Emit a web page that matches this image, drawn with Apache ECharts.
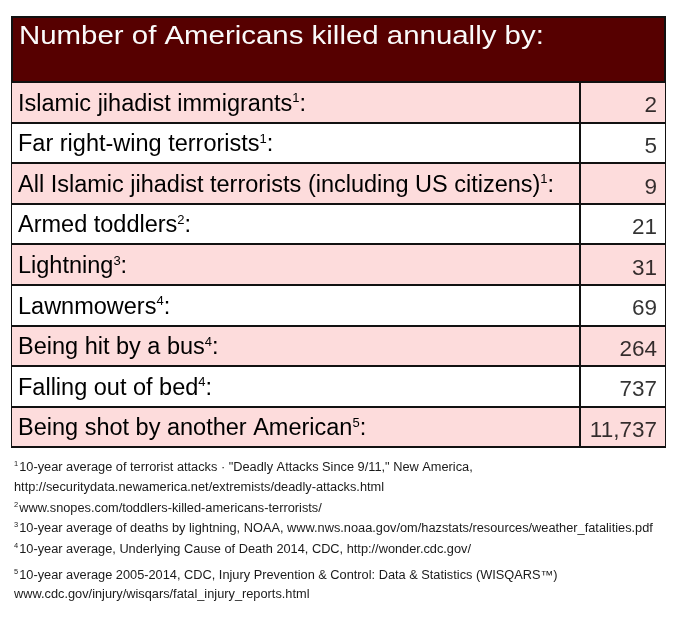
<!DOCTYPE html>
<html><head><meta charset="utf-8">
<script src="https://cdn.jsdelivr.net/npm/echarts@6/dist/echarts.min.js"></script>
<style>html,body{margin:0;padding:0;background:#fff}#c{width:676px;height:619px}</style>
</head><body><div id="c"></div>
<script>
const titleText = 'Number of Americans killed annually by:';
const categories = [
  'Islamic jihadist immigrants',
  'Far right-wing terrorists',
  'All Islamic jihadist terrorists (including US citizens)',
  'Armed toddlers',
  'Lightning',
  'Lawnmowers',
  'Being hit by a bus',
  'Falling out of bed',
  'Being shot by another American'
];
const sourceRefs = [1, 1, 1, 2, 3, 4, 4, 4, 5];
const deaths = [2, 5, 9, 21, 31, 69, 264, 737, 11737];
const footnoteMarks = ['1', '', '2', '3', '4', '5', ''];
const footnoteTexts = [
  '10-year average of terrorist attacks \u00b7 "Deadly Attacks Since 9/11," New America,',
  'http://securitydata.newamerica.net/extremists/deadly-attacks.html',
  'www.snopes.com/toddlers-killed-americans-terrorists/',
  '10-year average of deaths by lightning, NOAA, www.nws.noaa.gov/om/hazstats/resources/weather_fatalities.pdf',
  '10-year average, Underlying Cause of Death 2014, CDC, http://wonder.cdc.gov/',
  '10-year average 2005-2014, CDC, Injury Prevention & Control: Data & Statistics (WISQARS\u2122)',
  'www.cdc.gov/injury/wisqars/fatal_injury_reports.html'
];

const FONT = '"Liberation Sans", Arial, sans-serif';
const footY = [468, 488, 508.5, 529, 550, 576, 595];

const chart = echarts.init(document.getElementById('c'), null, {renderer: 'canvas'});

const graphics = [
  {type: 'rect', shape: {x: 12, y: 17, width: 653, height: 65}, style: {fill: '#560000', stroke: '#111', lineWidth: 2}, z: 0},
  {type: 'text', x: 19, y: 37, scaleX: 1.11, z: 1,
   style: {text: titleText, fontSize: 26.5, fontFamily: FONT, fill: '#fafafa', verticalAlign: 'middle', align: 'left'}}
];
footnoteTexts.forEach((t, i) => {
  graphics.push({
    type: 'text', x: 14, y: footY[i], scaleX: 1.065,
    style: {
      text: (footnoteMarks[i] ? '{s|' + footnoteMarks[i] + '}' : '') + '{t|' + t + '}',
      verticalAlign: 'middle', align: 'left',
      fontSize: 12, fontFamily: FONT, fill: '#1a1a1a',
      rich: {
        t: {fontSize: 12, fontFamily: FONT, fill: '#1a1a1a', lineHeight: 14},
        s: {fontSize: 7, fontFamily: FONT, fill: '#1a1a1a', lineHeight: 8, verticalAlign: 'top', padding: [0, 1, 0, 0]}
      }
    }
  });
});

chart.setOption({
  animation: false,
  backgroundColor: '#fff',
  graphic: graphics,
  grid: {left: 12, right: 11, top: 82, height: 365, show: true, borderColor: '#111', borderWidth: 2, backgroundColor: 'transparent'},
  xAxis: {type: 'value', min: 0, max: 1, show: false},
  yAxis: {
    type: 'category', inverse: true, data: categories,
    axisLine: {show: false}, axisTick: {show: false},
    splitLine: {show: true, lineStyle: {color: '#111', width: 2}},
    splitArea: {show: true, areaStyle: {color: ['#fddcdc', '#ffffff']}},
    axisLabel: {
      inside: true, margin: 6, padding: [4, 0, 0, 0],
      formatter: (val, idx) => '{t|' + val + '}{s|' + sourceRefs[idx] + '}{t|:}',
      rich: {
        t: {fontSize: 23.5, fontFamily: FONT, color: '#000', lineHeight: 24},
        s: {fontSize: 13, fontFamily: FONT, color: '#000', lineHeight: 13, verticalAlign: 'top'}
      }
    }
  },
  series: [{
    type: 'scatter', symbolSize: 0,
    data: deaths.map((d, i) => [1, i]),
    label: {
      show: true, position: 'left', distance: 8, offset: [0, 4],
      formatter: p => deaths[p.dataIndex].toLocaleString('en-US'),
      fontSize: 22.5, fontFamily: FONT, color: '#000'
    },
    markLine: {
      silent: true, symbol: 'none', label: {show: false},
      lineStyle: {color: '#111', width: 2, type: 'solid'},
      data: [{xAxis: 570 / 653}]
    }
  }]
});
</script></body></html>
